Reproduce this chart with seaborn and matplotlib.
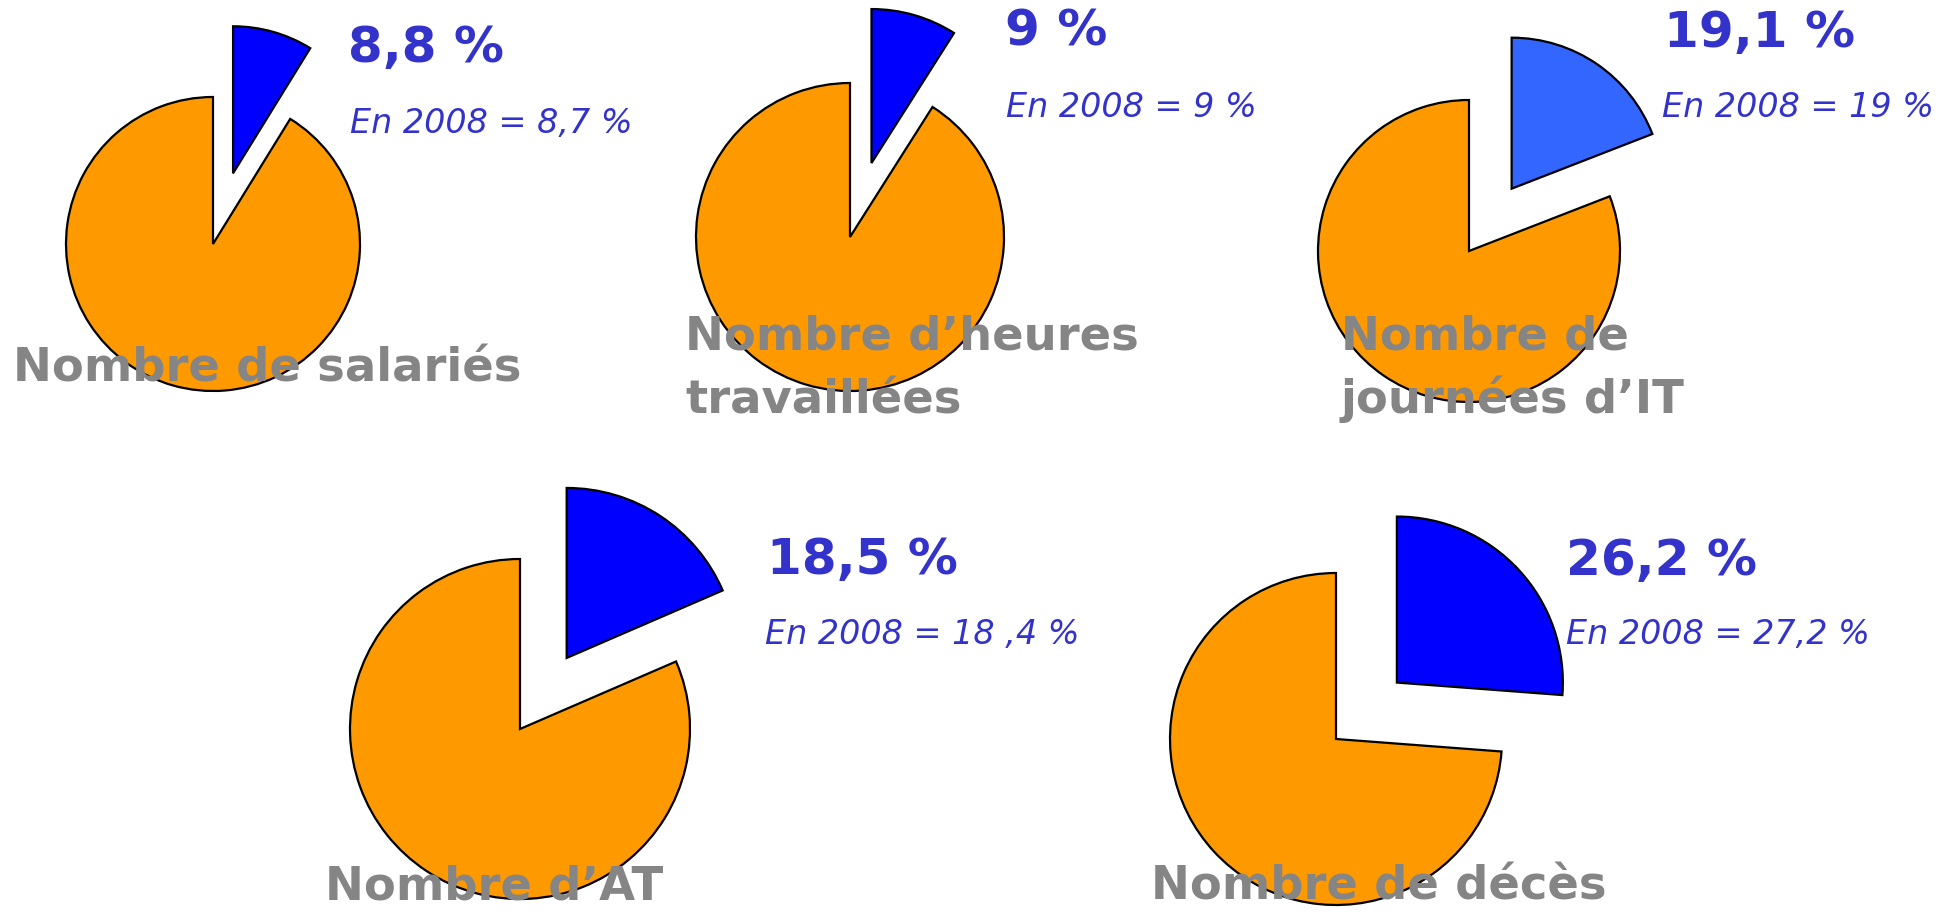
import matplotlib
matplotlib.use("Agg")
import matplotlib.pyplot as plt
import seaborn as sns

sns.set_theme(style="white")
plt.rcParams['font.family'] = ['DejaVu Sans']

# --- data ---
titles = ["Nombre de salariés", "Nombre d’heures\ntravaillées", "Nombre de\njournées d’IT",
          "Nombre d’AT", "Nombre de décès"]
share_2009 = [8.8, 9.0, 19.1, 18.5, 26.2]
share_2008 = [8.7, 9.0, 19.0, 18.4, 27.2]
label_2009 = ["8,8 %", "9 %", "19,1 %", "18,5 %", "26,2 %"]
label_2008 = ["En 2008 = 8,7 %", "En 2008 = 9 %", "En 2008 = 19 %",
              "En 2008 = 18 ,4 %", "En 2008 = 27,2 %"]

# --- layout (pixels) ---
W, H = 1948, 914
centers = [(213, 244), (850, 237), (1469, 251), (520, 729), (1336, 739)]
radii = [147, 154, 151, 170, 166]
title_pos = [(13, 382), (685, 350), (1341, 350), (325, 900), (1151, 900)]
pct_pos = [(348, 62), (1005, 45), (1664, 47), (767, 574), (1566, 575)]
prev_pos = [(350, 133), (1006, 117), (1662, 117), (765, 644), (1566, 644)]
wedge_cols = ["#0000FF", "#0000FF", "#3366FF", "#0000FF", "#0000FF"]
ORANGE = "#FF9900"
TXT_BLUE = "#3333CC"
GREY = "#858585"
L = 1.6

fig = plt.figure(figsize=(W / 100, H / 100), dpi=100)

for i, share in enumerate(share_2009):
    cx, cy = centers[i]
    r = radii[i]
    ax = fig.add_axes([(cx - L * r) / W, 1 - (cy + L * r) / H,
                       2 * L * r / W, 2 * L * r / H])
    ax.pie([share, 100 - share], startangle=90, counterclock=False,
           explode=[0.5, 0], colors=[wedge_cols[i], ORANGE],
           wedgeprops=dict(edgecolor="black", linewidth=1.6))
    ax.set_aspect("auto")
    ax.set_xlim(-L, L)
    ax.set_ylim(-L, L)
    ax.axis("off")

    px, py = pct_pos[i]
    fig.text(px / W, 1 - py / H, label_2009[i], color=TXT_BLUE, fontsize=36,
             fontweight="bold", ha="left", va="baseline")
    qx, qy = prev_pos[i]
    fig.text(qx / W, 1 - qy / H, label_2008[i], color=TXT_BLUE, fontsize=24,
             style="italic", ha="left", va="baseline")

    tx, ty = title_pos[i]
    for k, line in enumerate(titles[i].split("\n")):
        fig.text(tx / W, 1 - (ty + 63 * k) / H, line, color=GREY, fontsize=33.5,
                 fontweight="bold", ha="left", va="baseline")

fig.savefig("out.png", dpi=100, facecolor="white")
